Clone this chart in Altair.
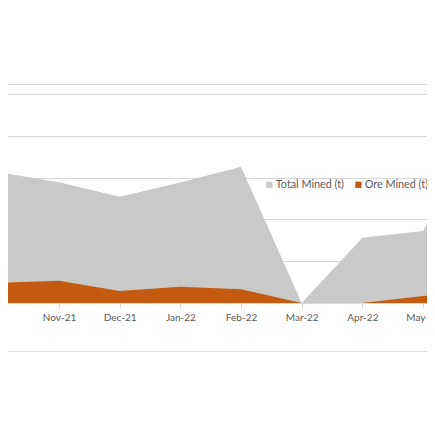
import json
import altair as alt
import pandas as pd

# Data (tonnes); axis labels were cropped off, one gridline = 10,000 t
months = ["Oct-21", "Nov-21", "Dec-21", "Jan-22", "Feb-22", "Mar-22", "Apr-22", "May-22", "Jun-22"]
total_mined = [31300, 28900, 25400, 28800, 32600, 0, 15600, 17200, 43000]
ore_mined = [4800, 5300, 2900, 3900, 3300, 0, 0, 1700, 2000]
series_names = ["Total Mined (t)", "Ore Mined (t)"]
series_colors = ["#c9c9c9", "#c55a11"]

rows = []
for i, m in enumerate(months):
    rows.append({"idx": i, "month": m, "series": series_names[0], "value": total_mined[i]})
    rows.append({"idx": i, "month": m, "series": series_names[1], "value": ore_mined[i]})
df = pd.DataFrame(rows)

label_expr = json.dumps(months) + "[datum.value]"
font = "Lato"

x_enc = alt.X(
    "idx:Q",
    scale=alt.Scale(domain=[-0.0384, 7.263], nice=False, zero=False),
    axis=alt.Axis(
        values=[1, 2, 3, 4, 5, 6, 7],
        labelExpr=label_expr,
        title=None,
        grid=False,
        offset=-48,
        domainColor="#d9d9d9",
        tickColor="#d9d9d9",
        tickSize=5,
        labelPadding=4,
        labelColor="#595959",
        labelFontSize=10,
        labelFont=font,
    ),
)

y_scale = alt.Scale(domain=[-11483, 52392], nice=False, zero=False)
y_axis = alt.Axis(
    values=[0, 10000, 20000, 30000, 40000, 50000],
    labels=False, ticks=False, domain=False, title=None,
    grid=True, gridColor="#d9d9d9", gridWidth=1,
)

color_enc = alt.Color(
    "series:N",
    scale=alt.Scale(domain=series_names, range=series_colors),
    legend=alt.Legend(
        title=None,
        orient="none",
        direction="horizontal",
        legendX=268,
        legendY=95,
        padding=0,
        symbolType="square",
        symbolSize=40,
        symbolStrokeWidth=0,
        labelOffset=1,
        columnPadding=9,
        labelFontSize=10.8,
        labelColor="#595959",
        labelFont=font,
    ),
)

base = alt.Chart(df)

layers = []
for name in series_names:
    layers.append(
        base.transform_filter(alt.datum.series == name).mark_area(clip=True, opacity=1).encode(
            x=x_enc,
            y=alt.Y("value:Q", scale=y_scale, axis=y_axis, stack=None),
            y2=alt.datum(0),
            color=color_enc,
        )
    )

chart = alt.layer(*layers).properties(
    width=443,
    height=267,
    autosize="none",
    padding={"left": -12, "right": -12, "top": 76, "bottom": 40},
).configure_view(
    stroke="#e3e3e3",
    strokeWidth=1,
).configure(background="white")

chart.save("out.html", embed_options={"renderer": "svg", "actions": False})
